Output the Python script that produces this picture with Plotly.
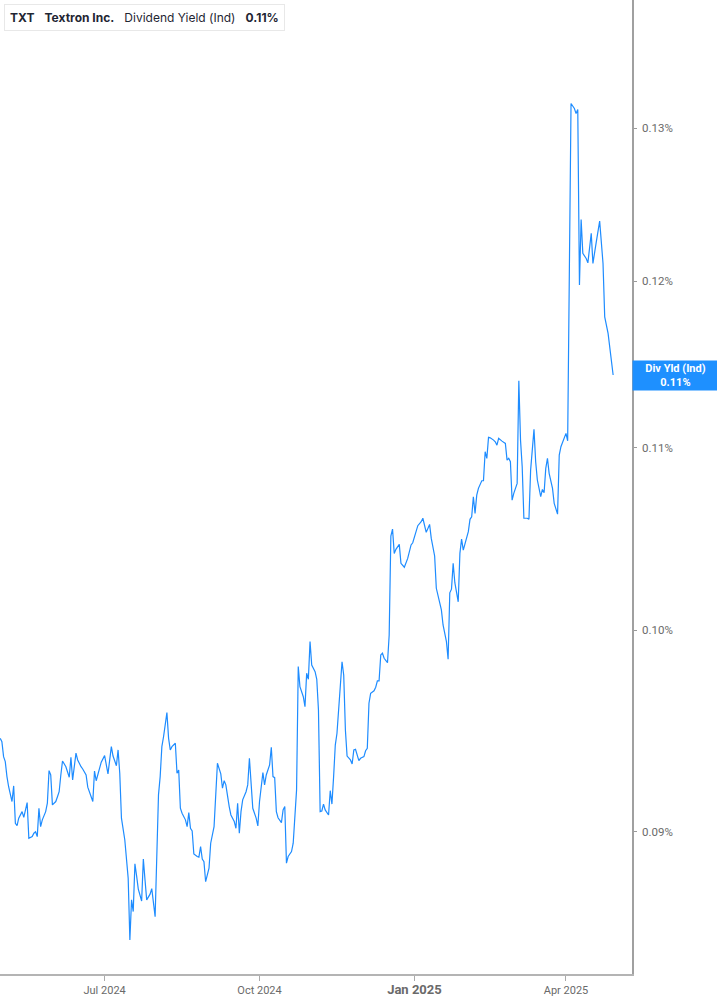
"""
TXT dividend yield (indicated) - one year of daily values,
log scale on the right, with a small legend box and a value flag.
"""

import math

import plotly.graph_objects as go

# trading dates
dates = [
    "2024-04-30", "2024-05-01", "2024-05-02", "2024-05-03", "2024-05-04", "2024-05-05", "2024-05-07", "2024-05-08",
    "2024-05-09", "2024-05-10", "2024-05-11", "2024-05-13", "2024-05-14", "2024-05-16", "2024-05-17", "2024-05-19",
    "2024-05-20", "2024-05-21", "2024-05-22", "2024-05-23", "2024-05-24", "2024-05-25", "2024-05-27", "2024-05-28",
    "2024-05-29", "2024-05-30", "2024-05-31", "2024-06-02", "2024-06-03", "2024-06-04", "2024-06-05", "2024-06-06",
    "2024-06-08", "2024-06-10", "2024-06-11", "2024-06-12", "2024-06-14", "2024-06-15", "2024-06-17", "2024-06-18",
    "2024-06-20", "2024-06-21", "2024-06-24", "2024-06-25", "2024-06-26", "2024-06-28", "2024-06-29", "2024-07-01",
    "2024-07-03", "2024-07-05", "2024-07-06", "2024-07-08", "2024-07-09", "2024-07-10", "2024-07-11", "2024-07-13",
    "2024-07-14", "2024-07-15", "2024-07-16", "2024-07-17", "2024-07-18", "2024-07-19", "2024-07-20", "2024-07-21",
    "2024-07-23", "2024-07-24", "2024-07-25", "2024-07-26", "2024-07-28", "2024-07-29", "2024-07-31", "2024-08-01",
    "2024-08-02", "2024-08-03", "2024-08-04", "2024-08-05", "2024-08-07", "2024-08-08", "2024-08-09", "2024-08-10",
    "2024-08-12", "2024-08-13", "2024-08-14", "2024-08-15", "2024-08-16", "2024-08-18", "2024-08-19", "2024-08-20",
    "2024-08-21", "2024-08-22", "2024-08-23", "2024-08-25", "2024-08-26", "2024-08-27", "2024-08-28", "2024-08-29",
    "2024-08-30", "2024-09-01", "2024-09-02", "2024-09-04", "2024-09-05", "2024-09-06", "2024-09-08", "2024-09-09",
    "2024-09-10", "2024-09-11", "2024-09-13", "2024-09-14", "2024-09-16", "2024-09-17", "2024-09-18", "2024-09-19",
    "2024-09-20", "2024-09-21", "2024-09-23", "2024-09-24", "2024-09-25", "2024-09-27", "2024-09-29", "2024-09-30",
    "2024-10-01", "2024-10-03", "2024-10-04", "2024-10-05", "2024-10-07", "2024-10-08", "2024-10-09", "2024-10-10",
    "2024-10-11", "2024-10-12", "2024-10-14", "2024-10-15", "2024-10-16", "2024-10-17", "2024-10-18", "2024-10-20",
    "2024-10-21", "2024-10-23", "2024-10-24", "2024-10-25", "2024-10-27", "2024-10-28", "2024-10-29", "2024-10-30",
    "2024-10-31", "2024-11-01", "2024-11-03", "2024-11-04", "2024-11-05", "2024-11-06", "2024-11-07", "2024-11-08",
    "2024-11-09", "2024-11-11", "2024-11-12", "2024-11-13", "2024-11-14", "2024-11-15", "2024-11-16", "2024-11-17",
    "2024-11-19", "2024-11-20", "2024-11-21", "2024-11-22", "2024-11-24", "2024-11-25", "2024-11-26", "2024-11-27",
    "2024-11-29", "2024-11-30", "2024-12-02", "2024-12-03", "2024-12-04", "2024-12-05", "2024-12-06", "2024-12-08",
    "2024-12-09", "2024-12-10", "2024-12-11", "2024-12-12", "2024-12-13", "2024-12-14", "2024-12-16", "2024-12-17",
    "2024-12-18", "2024-12-19", "2024-12-20", "2024-12-21", "2024-12-23", "2024-12-24", "2024-12-25", "2024-12-26",
    "2024-12-28", "2024-12-29", "2024-12-30", "2024-12-31", "2025-01-02", "2025-01-03", "2025-01-05", "2025-01-06",
    "2025-01-08", "2025-01-10", "2025-01-11", "2025-01-13", "2025-01-14", "2025-01-15", "2025-01-17", "2025-01-18",
    "2025-01-20", "2025-01-21", "2025-01-22", "2025-01-23", "2025-01-24", "2025-01-25", "2025-01-27", "2025-01-28",
    "2025-01-29", "2025-01-30", "2025-01-31", "2025-02-02", "2025-02-03", "2025-02-04", "2025-02-05", "2025-02-06",
    "2025-02-07", "2025-02-08", "2025-02-10", "2025-02-11", "2025-02-12", "2025-02-13", "2025-02-14", "2025-02-15",
    "2025-02-17", "2025-02-18", "2025-02-19", "2025-02-20", "2025-02-22", "2025-02-24", "2025-02-25", "2025-02-26",
    "2025-02-27", "2025-02-28", "2025-03-01", "2025-03-03", "2025-03-04", "2025-03-05", "2025-03-06", "2025-03-07",
    "2025-03-09", "2025-03-10", "2025-03-11", "2025-03-12", "2025-03-13", "2025-03-14", "2025-03-15", "2025-03-17",
    "2025-03-18", "2025-03-19", "2025-03-20", "2025-03-21", "2025-03-22", "2025-03-24", "2025-03-25", "2025-03-27",
    "2025-03-28", "2025-03-29", "2025-03-31", "2025-04-01", "2025-04-02", "2025-04-03", "2025-04-04", "2025-04-06",
    "2025-04-07", "2025-04-08", "2025-04-09", "2025-04-10", "2025-04-11", "2025-04-13", "2025-04-14", "2025-04-16",
    "2025-04-17", "2025-04-19", "2025-04-21", "2025-04-23", "2025-04-24", "2025-04-26", "2025-04-27", "2025-04-28",
    "2025-04-29",
]

# dividend yield in percent
div_yield = [
    0.09451, 0.09435, 0.09361, 0.09337, 0.09264, 0.09215, 0.09144, 0.09219,
    0.09041, 0.09030, 0.09065, 0.09096, 0.09069, 0.09139, 0.08970, 0.08978,
    0.08994, 0.09001, 0.08978, 0.09112, 0.09025, 0.09057, 0.09096, 0.09136,
    0.09293, 0.09272, 0.09128, 0.09144, 0.09167, 0.09191, 0.09272, 0.09340,
    0.09312, 0.09261, 0.09358, 0.09248, 0.09378, 0.09345, 0.09312, 0.09301,
    0.09272, 0.09213, 0.09144, 0.09291, 0.09244, 0.09312, 0.09334, 0.09366,
    0.09277, 0.09410, 0.09364, 0.09317, 0.09394, 0.09280, 0.09065, 0.08962,
    0.08869, 0.08785, 0.08506, 0.08686, 0.08633, 0.08851, 0.08796, 0.08735,
    0.08681, 0.08873, 0.08777, 0.08686, 0.08712, 0.08737, 0.08610, 0.08916,
    0.09176, 0.09264, 0.09410, 0.09459, 0.09579, 0.09451, 0.09394, 0.09410,
    0.09427, 0.09280, 0.09296, 0.09112, 0.09088, 0.09057, 0.09025, 0.09091,
    0.09017, 0.09005, 0.08897, 0.08885, 0.08882, 0.08931, 0.08873, 0.08861,
    0.08769, 0.08831, 0.08947, 0.09025, 0.09176, 0.09329, 0.09277, 0.09208,
    0.09244, 0.09224, 0.09120, 0.09080, 0.09049, 0.09017, 0.09136, 0.08994,
    0.09096, 0.09152, 0.09191, 0.09224, 0.09353, 0.09112, 0.09065, 0.09028,
    0.09144, 0.09283, 0.09224, 0.09272, 0.09321, 0.09407, 0.09264, 0.09259,
    0.09096, 0.09067, 0.09044, 0.09104, 0.09120, 0.08854, 0.08885, 0.08908,
    0.08947, 0.09200, 0.09812, 0.09710, 0.09659, 0.09609, 0.09778, 0.09747,
    0.09941, 0.09820, 0.09786, 0.09747, 0.09592, 0.09096, 0.09099, 0.09132,
    0.09104, 0.09080, 0.09196, 0.09132, 0.09264, 0.09418, 0.09476, 0.09592,
    0.09837, 0.09769, 0.09492, 0.09364, 0.09345, 0.09325, 0.09394, 0.09397,
    0.09342, 0.09353, 0.09361, 0.09390, 0.09402, 0.09626, 0.09676, 0.09689,
    0.09707, 0.09739, 0.09739, 0.09872, 0.09881, 0.09855, 0.09832, 0.09975,
    0.10505, 0.10543, 0.10410, 0.10432, 0.10459, 0.10356, 0.10342, 0.10335,
    0.10383, 0.10428, 0.10456, 0.10468, 0.10542, 0.10562, 0.10584, 0.10603,
    0.10525, 0.10569, 0.10492, 0.10396, 0.10222, 0.10177, 0.10107, 0.10028,
    0.09941, 0.09850, 0.10198, 0.10217, 0.10356, 0.10252, 0.10150, 0.10410,
    0.10488, 0.10428, 0.10465, 0.10529, 0.10597, 0.10611, 0.10723, 0.10630,
    0.10732, 0.10770, 0.10813, 0.10813, 0.10978, 0.10940, 0.11061, 0.11058,
    0.11045, 0.11035, 0.11016, 0.11055, 0.11039, 0.11026, 0.10930, 0.10940,
    0.10921, 0.10704, 0.10742, 0.10798, 0.11393, 0.11045, 0.10892, 0.10603,
    0.10603, 0.10597, 0.10873, 0.11007, 0.11107, 0.10921, 0.10817, 0.10723,
    0.10764, 0.10745, 0.10883, 0.10940, 0.10855, 0.10770, 0.10686, 0.10626,
    0.10959, 0.11007, 0.11055, 0.11084, 0.11041, 0.11966, 0.13169, 0.13135,
    0.13100, 0.13128, 0.11977, 0.12395, 0.12177, 0.12145, 0.12117, 0.12305,
    0.12113, 0.12251, 0.12384, 0.12113, 0.11780, 0.11678, 0.11587, 0.11536,
    0.11427,
]

y_ticks = [0.09, 0.10, 0.11, 0.12, 0.13]
y_labels = ["0.09%", "0.10%", "0.11%", "0.12%", "0.13%"]
x_ticks = ["2024-07-01", "2024-10-01", "2025-01-01", "2025-04-01"]
x_labels = ["Jul 2024", "Oct 2024", "<span style='font-size:13px'><b>Jan 2025</b></span>", "Apr 2025"]

BLUE = "#1e8cff"
W, H = 717, 1005
L, R, T, B = 0, 85, 0, 31
PW, PH = W - L - R, H - T - B
SP = "&nbsp;" * 3

fig = go.Figure()
fig.add_trace(go.Scatter(
    x=dates, y=div_yield, mode="lines",
    line=dict(color=BLUE, width=1.2),
    hoverinfo="skip", showlegend=False,
))

fig.update_xaxes(
    type="date",
    range=["2024-04-29 21:00", "2025-05-10 05:00"],
    tickvals=x_ticks, ticktext=x_labels,
    ticks="outside", ticklen=5, tickcolor="#aaaaaa", tickwidth=1,
    showline=True, linecolor="#b4b4b4", linewidth=2,
    showgrid=False, zeroline=False,
    tickfont=dict(family="Roboto, Arial", size=11, color="#6a6a6a"),
)
fig.update_yaxes(
    type="log", side="right",
    range=[math.log10(0.08356), math.log10(0.13901)],
    tickvals=y_ticks, ticktext=y_labels,
    ticks="outside", ticklen=3, tickcolor="#999999",
    ticklabelstandoff=3,
    showline=True, linecolor="#a0a0a0", linewidth=1.5,
    showgrid=False, zeroline=False,
    tickfont=dict(family="Roboto, Arial", size=11.5, color="#6a6a6a"),
)

# legend box top-left
fig.add_annotation(
    xref="paper", yref="paper", x=4 / PW, y=1 - 4 / PH,
    xanchor="left", yanchor="top",
    text=f"<b>TXT</b>{SP}<b>Textron Inc.</b>{SP}Dividend Yield (Ind){SP}<b>0.11%</b>",
    showarrow=False, align="left",
    font=dict(family="Inter, Roboto, Arial", size=12, color="#1f2633"),
    bgcolor="white", bordercolor="#e8e8e8", borderwidth=1, borderpad=5,
)
fig.add_shape(
    type="rect", xref="paper", yref="paper",
    x0=4 / PW, x1=7 / PW, y0=1 - 30 / PH, y1=1 - 4 / PH,
    fillcolor=BLUE, line=dict(width=0),
)

# current value flag on the right axis
fig.add_annotation(
    xref="paper", yref="y", x=1, y=math.log10(div_yield[-1]),
    xanchor="left", yanchor="middle",
    text="<b>Div Yld (Ind)</b><br><b>0.11%</b>",
    showarrow=False, align="center",
    font=dict(family="Roboto, Arial", size=11, color="white"),
    bgcolor="#1e90ff", borderpad=2, width=81, height=25,
)

fig.update_layout(
    width=W, height=H,
    margin=dict(l=L, r=R, t=T, b=B),
    paper_bgcolor="white", plot_bgcolor="white",
)

# the page body has a default 8px margin; drop it so the chart sits at 0,0
fig.write_html(
    "out.html",
    config={"displayModeBar": False},
    post_script="document.body.style.margin='0';",
)
